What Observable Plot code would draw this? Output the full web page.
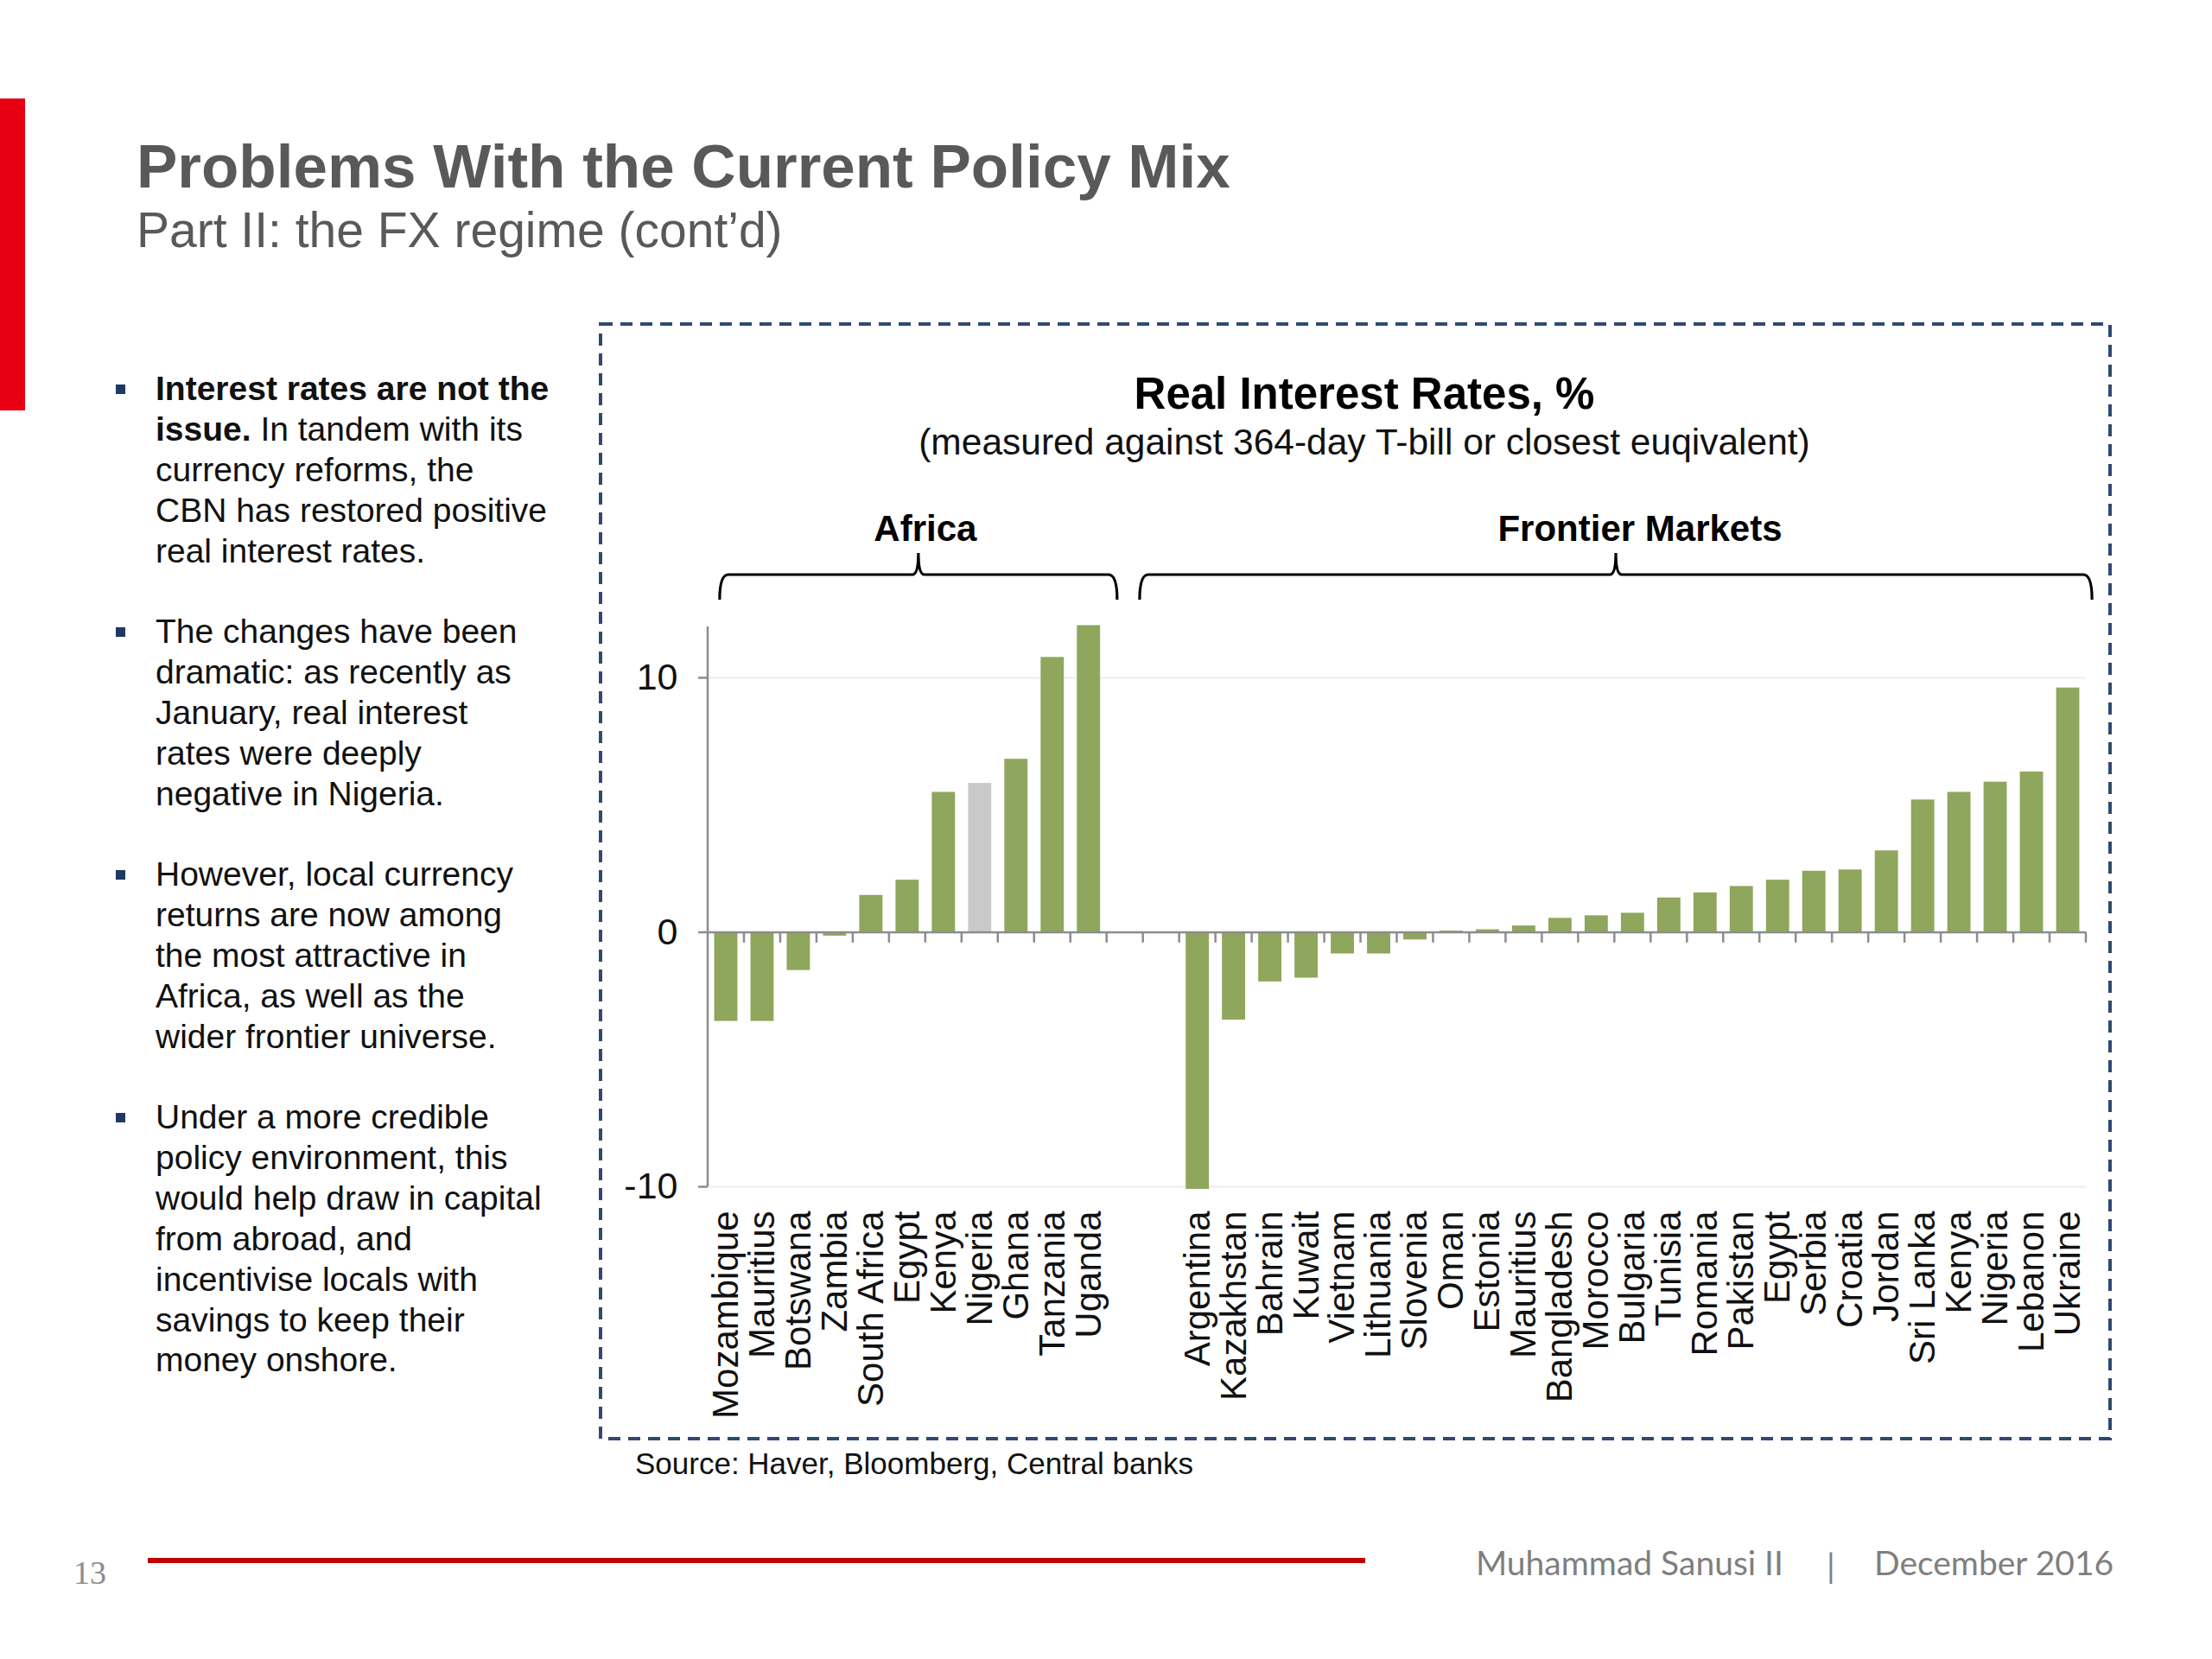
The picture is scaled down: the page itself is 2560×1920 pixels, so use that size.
<!DOCTYPE html>
<html>
<head>
<meta charset="utf-8">
<script src="https://cdn.jsdelivr.net/npm/d3@7"></script>
<script src="https://cdn.jsdelivr.net/npm/@observablehq/plot@0.6"></script>
<style>
  html, body { margin: 0; padding: 0; background: #fff; }
  #page { position: relative; width: 2560px; height: 1920px; overflow: hidden; font-family: "Liberation Sans", Arial, sans-serif; }
  #deco { position: absolute; left: 0; top: 0; }
  #chart { position: absolute; left: 700px; top: 580px; }
  text { white-space: pre; }
</style>
</head>
<body>
<div id="page">
  <svg id="deco" width="2560" height="1920"></svg>
  <div id="chart"></div>
</div>
<script>
// ---------------- data ----------------
const africaCountries = ["Mozambique", "Mauritius", "Botswana", "Zambia", "South Africa", "Egypt", "Kenya", "Nigeria", "Ghana", "Tanzania", "Uganda"];
const africaValues = [-3.5, -3.5, -1.5, -0.15, 1.45, 2.05, 5.5, 5.85, 6.8, 10.8, 12.05];
const frontierCountries = ["Argentina", "Kazakhstan", "Bahrain", "Kuwait", "Vietnam", "Lithuania", "Slovenia", "Oman", "Estonia", "Mauritius", "Bangladesh", "Morocco", "Bulgaria", "Tunisia", "Romania", "Pakistan", "Egypt", "Serbia", "Croatia", "Jordan", "Sri Lanka", "Kenya", "Nigeria", "Lebanon", "Ukraine"];
const frontierValues = [-10.1, -3.45, -1.95, -1.8, -0.85, -0.85, -0.3, 0.05, 0.1, 0.25, 0.55, 0.65, 0.75, 1.35, 1.55, 1.8, 2.05, 2.4, 2.45, 3.2, 5.2, 5.5, 5.9, 6.3, 9.6];
const gapSlots = 2;                       // empty category slots between the two groups
const highlightedCountry = "Nigeria";     // Africa group bar shown in grey
const yTicks = [-10, 0, 10];
const yGridTicks = [-10, 10];
const yDomain = [-10, 12];
const groupNames = ["Africa", "Frontier Markets"];

const chartTitle = "Real Interest Rates, %";
const chartSubtitle = "(measured against 364-day T-bill or closest euqivalent)";
const sourceText = "Source: Haver, Bloomberg, Central banks";

// ---------------- table ----------------
const africaKeys = africaCountries.map(c => "A|" + c);
const frontierKeys = frontierCountries.map(c => "F|" + c);
const gapKeys = d3.range(gapSlots).map(i => "G|" + i);
const xDomain = [...africaKeys, ...gapKeys, ...frontierKeys];
const rows = [
  ...africaCountries.map((c, i) => ({key: africaKeys[i], name: c, value: africaValues[i], hi: c === highlightedCountry})),
  ...frontierCountries.map((c, i) => ({key: frontierKeys[i], name: c, value: frontierValues[i], hi: false}))
];
const nameOf = k => k.startsWith("G|") ? "" : k.slice(2);

const GREEN = "#8EA75C", GREY = "#C9C9C9", AXIS = "#8c8c8c";
const padInner = 0.36, padOuter = padInner / 2;

// ---------------- page decoration ----------------
const deco = d3.select("#deco");
const F = '"Liberation Sans", Arial, sans-serif';
deco.append("rect").attr("x", 0).attr("y", 114).attr("width", 29).attr("height", 361).attr("fill", "#E60012");
deco.append("text").attr("x", 158).attr("y", 217).attr("font-family", F).attr("font-weight", "bold")
  .attr("font-size", 71).attr("fill", "#595959").text("Problems With the Current Policy Mix");
deco.append("text").attr("x", 158).attr("y", 286).attr("font-family", F)
  .attr("font-size", 57).attr("fill", "#595959").text("Part II: the FX regime (cont\u2019d)");

// bullets
const bullets = [
  [[["Interest rates are not the", true]], [["issue.", true], [" In tandem with its", false]], [["currency reforms, the", false]], [["CBN has restored positive", false]], [["real interest rates.", false]]],
  [[["The changes have been", false]], [["dramatic: as recently as", false]], [["January, real interest", false]], [["rates were deeply", false]], [["negative in Nigeria.", false]]],
  [[["However, local currency", false]], [["returns are now among", false]], [["the most attractive in", false]], [["Africa, as well as the", false]], [["wider frontier universe.", false]]],
  [[["Under a more credible", false]], [["policy environment, this", false]], [["would help draw in capital", false]], [["from abroad, and", false]], [["incentivise locals with", false]], [["savings to keep their", false]], [["money onshore.", false]]]
];
const bulletStarts = [463, 744, 1025, 1306];
const lineH = 46.9;
bullets.forEach((b, bi) => {
  const y0 = bulletStarts[bi];
  deco.append("rect").attr("x", 134).attr("y", y0 - 18).attr("width", 11).attr("height", 11).attr("fill", "#1F3864");
  b.forEach((line, li) => {
    const t = deco.append("text").attr("x", 180).attr("y", y0 + li * lineH).attr("font-family", F)
      .attr("font-size", 39).attr("fill", "#111");
    line.forEach(([s, bold]) => t.append("tspan").attr("font-weight", bold ? "bold" : "normal").text(s));
  });
});

// dashed box
deco.append("rect").attr("x", 695).attr("y", 375).attr("width", 1747).attr("height", 1290)
  .attr("fill", "none").attr("stroke", "#2F4A72").attr("stroke-width", 4).attr("stroke-dasharray", "14 9");
deco.append("text").attr("x", 1579).attr("y", 473).attr("text-anchor", "middle").attr("font-family", F)
  .attr("font-weight", "bold").attr("font-size", 51).attr("fill", "#000").text(chartTitle);
deco.append("text").attr("x", 1579).attr("y", 526).attr("text-anchor", "middle").attr("font-family", F)
  .attr("font-size", 42.5).attr("fill", "#111").text(chartSubtitle);
deco.append("text").attr("x", 735).attr("y", 1706).attr("font-family", F)
  .attr("font-size", 35).attr("fill", "#111").text(sourceText);

// footer
deco.append("text").attr("x", 85).attr("y", 1833).attr("font-family", '"Liberation Serif", serif')
  .attr("font-size", 38).attr("fill", "#8c8c8c").text("13");
deco.append("line").attr("x1", 171).attr("x2", 1580).attr("y1", 1806).attr("y2", 1806)
  .attr("stroke", "#C00000").attr("stroke-width", 6);
const FF = 'Lato, "Open Sans", sans-serif';
deco.append("text").attr("x", 1708).attr("y", 1823).attr("font-family", FF).attr("font-size", 39).attr("fill", "#7f7f7f").text("Muhammad Sanusi II");
deco.append("text").attr("x", 2114).attr("y", 1826).attr("font-family", FF).attr("font-size", 39).attr("fill", "#7f7f7f").text("|");
deco.append("text").attr("x", 2169).attr("y", 1823).attr("font-family", FF).attr("font-size", 39).attr("fill", "#7f7f7f").text("December 2016");

// ---------------- chart decorations drawn from scales ----------------
function scaleDecor(index, scales, values, dimensions) {
  const x = scales.x, y = scales.y;
  const n = xDomain.length;
  const step = typeof x.step === "function" ? x.step()
    : (dimensions.width - dimensions.marginLeft - dimensions.marginRight) / n;
  const leftB = k => x(k) - padOuter * step;
  const rightB = k => leftB(k) + step;
  const g = d3.create("svg:g");
  // y axis line
  const x0 = leftB(xDomain[0]);
  g.append("line").attr("x1", x0).attr("x2", x0).attr("y1", y(yDomain[1])).attr("y2", y(yDomain[0]))
    .attr("stroke", AXIS).attr("stroke-width", 2.5);
  // category boundary ticks on the zero line
  xDomain.forEach(k => {
    const xb = rightB(k);
    g.append("line").attr("x1", xb).attr("x2", xb).attr("y1", y(0)).attr("y2", y(-0.42))
      .attr("stroke", AXIS).attr("stroke-width", 2.5);
  });
  // braces
  const top = y(yDomain[1]);
  const lineY = top - 60, endY = top - 31, tipY = top - 85, labelY = top - 99;
  const groups = [
    {name: groupNames[0], a: leftB(africaKeys[0]) + 0.33 * step, b: rightB(africaKeys[africaKeys.length - 1]) + 0.29 * step, dx: 8},
    {name: groupNames[1], a: leftB(frontierKeys[0]) - 1.09 * step, b: rightB(frontierKeys[frontierKeys.length - 1]) + 0.17 * step, dx: 28}
  ];
  groups.forEach(gr => {
    const cx = (gr.a + gr.b) / 2, r = 10, r2 = 7;
    const p = `M${gr.a},${endY} Q${gr.a},${lineY} ${gr.a + r},${lineY} L${cx - r2},${lineY} Q${cx},${lineY} ${cx},${tipY} ` +
              `Q${cx},${lineY} ${cx + r2},${lineY} L${gr.b - r},${lineY} Q${gr.b},${lineY} ${gr.b},${endY}`;
    g.append("path").attr("d", p).attr("fill", "none").attr("stroke", "#000").attr("stroke-width", 3.2);
    g.append("text").attr("x", cx + gr.dx).attr("y", labelY).attr("text-anchor", "middle")
      .attr("font-family", F).attr("font-weight", "bold").attr("font-size", 42).attr("fill", "#000").text(gr.name);
  });
  return g.node();
}

// ---------------- plot ----------------
const chart = Plot.plot({
  width: 1740,
  height: 1080,
  marginTop: 145,
  marginBottom: 287,
  marginLeft: 119,
  marginRight: 26,
  style: {fontFamily: F, fontSize: "42px", color: "#111", background: "transparent", overflow: "visible"},
  x: {domain: xDomain, paddingInner: padInner, paddingOuter: padOuter, axis: null, label: null},
  y: {domain: yDomain, axis: null, label: null},
  marks: [
    Plot.ruleY(yGridTicks, {stroke: "#ececec", strokeWidth: 2}),
    Plot.barY(rows.filter(d => !d.hi), {x: "key", y: "value", fill: GREEN}),
    Plot.barY(rows.filter(d => d.hi), {x: "key", y: "value", fill: GREY}),
    Plot.ruleY([0], {stroke: AXIS, strokeWidth: 2.5}),
    Plot.axisY({ticks: yTicks, label: null, tickSize: 11, tickPadding: 24, fontSize: 43, stroke: AXIS, strokeWidth: 2.5, fill: "#111", tickFormat: d => String(d)}),
    Plot.axisX({label: null, tickRotate: -90, tickSize: 0, tickPadding: 28, fontSize: 42, fill: "#111", tickFormat: nameOf}),
    scaleDecor
  ]
});
document.getElementById("chart").appendChild(chart);
</script>
</body>
</html>
